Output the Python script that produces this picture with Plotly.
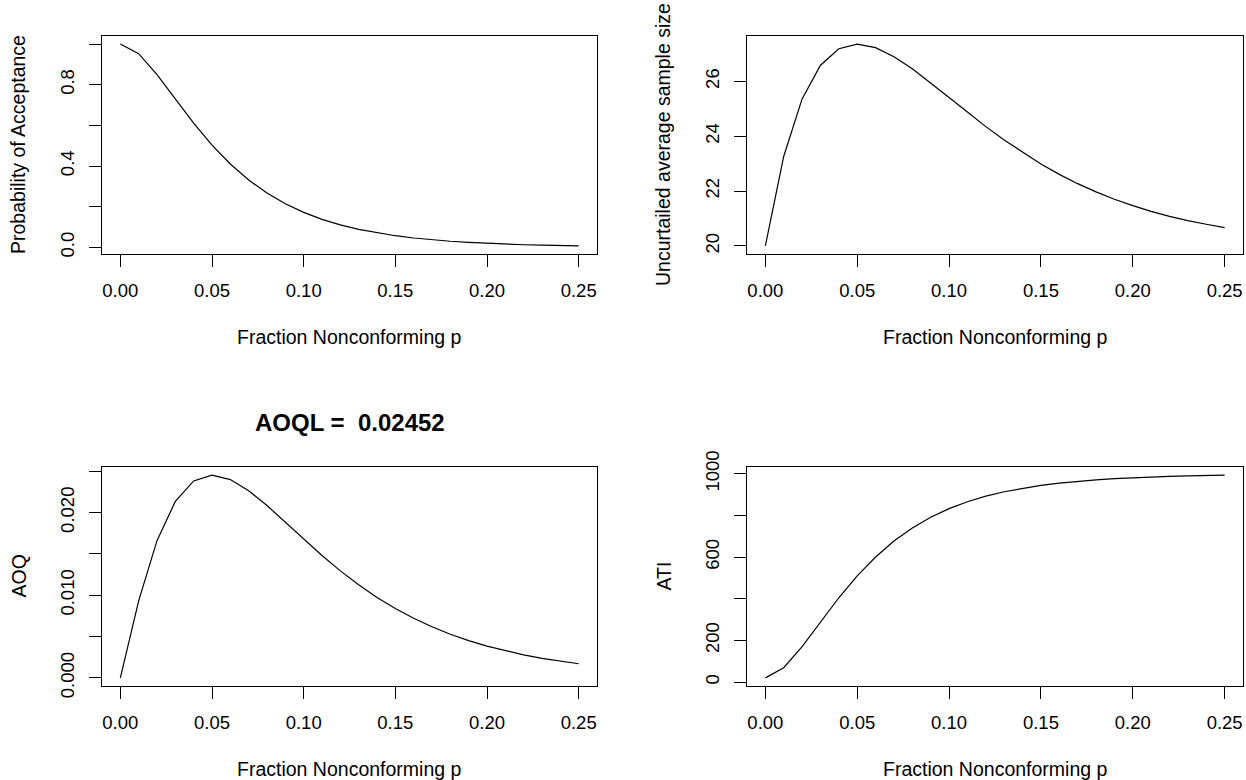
import plotly.graph_objects as go

# ---- data ----
p = [0.00, 0.01, 0.02, 0.03, 0.04, 0.05, 0.06, 0.07, 0.08, 0.09, 0.10, 0.11, 0.12,
     0.13, 0.14, 0.15, 0.16, 0.17, 0.18, 0.19, 0.20, 0.21, 0.22, 0.23, 0.24, 0.25]
prob_accept = [1.0, 0.9528, 0.8501, 0.7295, 0.6108, 0.5032, 0.4100, 0.3317, 0.2671,
               0.2145, 0.1720, 0.1378, 0.1105, 0.0886, 0.0712, 0.0572, 0.0461, 0.0372,
               0.0300, 0.0243, 0.0197, 0.0159, 0.0129, 0.0105, 0.0086, 0.0070]
asn = [20.00, 23.27, 25.36, 26.59, 27.19, 27.36, 27.23, 26.90, 26.46, 25.95, 25.41,
       24.88, 24.35, 23.86, 23.41, 22.99, 22.61, 22.27, 21.97, 21.70, 21.47, 21.26,
       21.08, 20.92, 20.79, 20.67]
aoq = [0.0, 0.00931, 0.01659, 0.02134, 0.02382, 0.02452, 0.02398, 0.02264, 0.02084,
       0.01883, 0.01678, 0.01480, 0.01294, 0.01125, 0.00973, 0.00839, 0.00721, 0.00618,
       0.00528, 0.00451, 0.00385, 0.00328, 0.00279, 0.00237, 0.00201, 0.00171]
ati = [20.0, 68.9, 170.5, 288.7, 404.6, 509.6, 600.3, 676.6, 739.5, 790.8, 832.2, 865.5,
       892.1, 913.5, 930.5, 944.1, 955.0, 963.7, 970.7, 976.3, 980.8, 984.4, 987.3, 989.7,
       991.6, 993.2]
aoql = 0.02452

x_ticks = [0.00, 0.05, 0.10, 0.15, 0.20, 0.25]
x_ticktext = ["0.00", "0.05", "0.10", "0.15", "0.20", "0.25"]
pa_ticks = [0.0, 0.2, 0.4, 0.6, 0.8, 1.0]
pa_ticktext = ["0.0", "", "0.4", "", "0.8", ""]
asn_ticks = [20, 22, 24, 26]
asn_ticktext = ["20", "22", "24", "26"]
aoq_ticks = [0.0, 0.005, 0.010, 0.015, 0.020, 0.025]
aoq_ticktext = ["0.000", "", "0.010", "", "0.020", ""]
ati_ticks = [0, 200, 400, 600, 800, 1000]
ati_ticktext = ["0", "200", "", "600", "", "1000"]

xlab = "Fraction Nonconforming p"
ylabs = ["Probability of Acceptance", "Uncurtailed average sample size", "AOQ", "ATI"]

# ---- layout geometry (pixels) ----
W, H = 1246, 780
FONT = "Liberation Sans, Arial, sans-serif"
TICK_SIZE = 18.5
LAB_SIZE = 19.5
cols = [(102, 597), (747, 1243)]
rows = [(36, 254), (467, 686)]


def pr(lo, hi):
    d = (hi - lo) * 0.04
    return [lo - d, hi + d]


def px_x(v):
    return v / W


def px_y(v):
    return 1 - v / H


fig = go.Figure()
series = [prob_accept, asn, aoq, ati]
yticks = [(pa_ticks, pa_ticktext), (asn_ticks, asn_ticktext),
          (aoq_ticks, aoq_ticktext), (ati_ticks, ati_ticktext)]

layout = dict(width=W, height=H,
              margin=dict(l=0, r=0, t=0, b=0, pad=0, autoexpand=False),
              paper_bgcolor="white", plot_bgcolor="white", showlegend=False,
              font=dict(family=FONT, color="black"))
annotations = []

for i, ys in enumerate(series):
    r, c = divmod(i, 2)
    (x0, x1), (y0, y1) = cols[c], rows[r]
    sfx = "" if i == 0 else str(i + 1)
    fig.add_trace(go.Scatter(x=p, y=ys, mode="lines",
                             line=dict(color="black", width=1.2),
                             xaxis="x" + sfx, yaxis="y" + sfx, hoverinfo="skip"))
    common = dict(showgrid=False, zeroline=False, showline=True, mirror=True,
                  linecolor="black", linewidth=1, ticks="outside", ticklen=12,
                  tickwidth=1, tickcolor="black", automargin=False,
                  tickfont=dict(family=FONT, size=TICK_SIZE, color="black"))
    layout["xaxis" + sfx] = dict(common, domain=[px_x(x0), px_x(x1)],
                                 range=pr(min(p), max(p)),
                                 tickmode="array", tickvals=x_ticks, ticktext=x_ticktext,
                                 anchor="y" + sfx, ticklabelstandoff=8)
    tv, tt = yticks[i]
    layout["yaxis" + sfx] = dict(common, domain=[px_y(y1), px_y(y0)],
                                 range=pr(min(ys), max(ys)),
                                 tickmode="array", tickvals=tv, ticktext=tt,
                                 tickangle=-90, anchor="x" + sfx, ticklabelstandoff=8)
    cx = (x0 + x1) / 2
    cy = (y0 + y1) / 2
    annotations.append(dict(text=xlab, x=px_x(cx), y=px_y(y1 + 83), xref="paper",
                            yref="paper", xanchor="center", yanchor="middle",
                            showarrow=False, font=dict(size=LAB_SIZE, family=FONT)))
    annotations.append(dict(text=ylabs[i], x=px_x(x0 - 84), y=px_y(cy), xref="paper",
                            yref="paper", xanchor="center", yanchor="middle",
                            textangle=-90, showarrow=False,
                            font=dict(size=LAB_SIZE, family=FONT)))

annotations.append(dict(text="<b>AOQL =  %.5f</b>" % aoql,
                        x=px_x((cols[0][0] + cols[0][1]) / 2), y=px_y(423),
                        xref="paper", yref="paper", xanchor="center", yanchor="middle",
                        showarrow=False, font=dict(size=24, family=FONT)))
layout["annotations"] = annotations
fig.update_layout(**layout)
fig.write_html("out.html")
